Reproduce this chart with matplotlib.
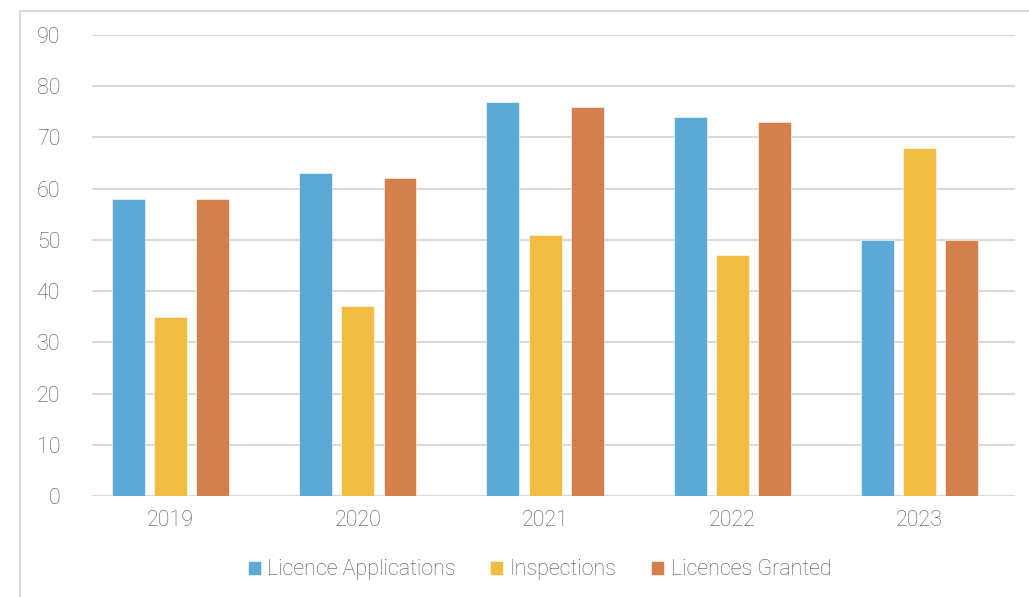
import numpy as np
import matplotlib.pyplot as plt
from matplotlib.patches import Rectangle

plt.rcParams['font.family'] = ['Roboto', 'DejaVu Sans']
plt.rcParams['font.weight'] = 'light'

years = ['2019', '2020', '2021', '2022', '2023']
applications = [58, 63, 77, 74, 50]
inspections = [35, 37, 51, 47, 68]
granted = [58, 62, 76, 73, 50]
series_names = ['Licence Applications', 'Inspections', 'Licences Granted']
colors = ['#5BA9D4', '#F0BC42', '#D4804E']

text_color = '#505050'
grid_color = '#D9D9D9'

fig = plt.figure(figsize=(10.29, 5.97), dpi=100)
ax = fig.add_axes([92 / 1029, 101 / 597, 923 / 1029, 461 / 597])

# outer chart frame (runs off the right and bottom edge in the original)
fig.patches.append(Rectangle((20 / 1029, -0.1), 1.2, (597 - 11) / 597 + 0.1,
                             transform=fig.transFigure, fill=False,
                             edgecolor=grid_color, linewidth=1.5))

x = np.arange(len(years))
width = 0.176
step = 0.225
for i, (vals, name, c) in enumerate(zip([applications, inspections, granted], series_names, colors)):
    ax.bar(x + (i - 1) * step, vals, width, color=c, label=name,
           edgecolor='white', linewidth=0.4, zorder=3)

ax.set_ylim(0, 90)
ax.set_yticks(range(0, 91, 10))
ax.set_xlim(-0.42, 4.51)
ax.set_xticks(x)
ax.set_xticklabels(years)
ax.yaxis.grid(True, color=grid_color, linewidth=1.5, zorder=0)
for s in ax.spines.values():
    s.set_visible(False)
ax.tick_params(axis='both', length=0, labelsize=15.5, labelcolor=text_color)
ax.tick_params(axis='y', pad=23)
ax.tick_params(axis='x', pad=10)

ax.legend(loc='center', bbox_to_anchor=(0.485, -0.16), ncol=3, frameon=False,
          prop={'size': 15.5, 'weight': 'light'}, labelcolor=text_color,
          handlelength=0.6, handleheight=0.6, handletextpad=0.3, columnspacing=1.6)

plt.savefig('out.png', dpi=100)
